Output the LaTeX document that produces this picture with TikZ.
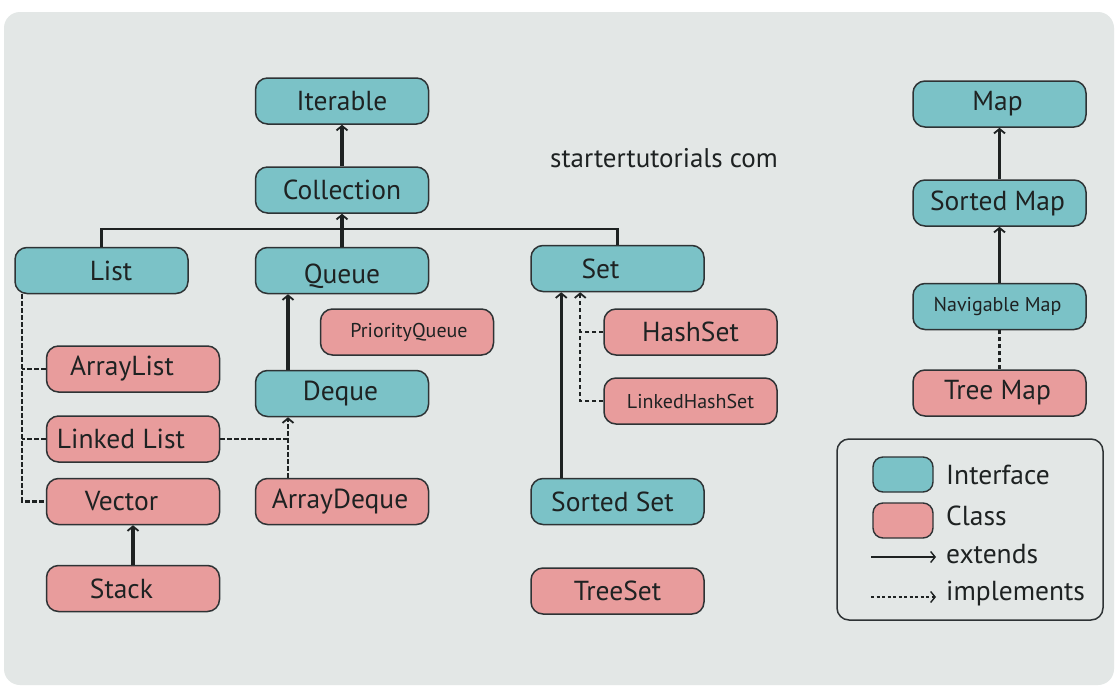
\documentclass[tikz,border=0pt]{standalone}
\usepackage{fontspec}
\setmainfont{PT Sans}
\usetikzlibrary{arrows.meta}
\definecolor{bgc}{HTML}{E3E7E6}
\definecolor{tealc}{HTML}{7BC2C7}
\definecolor{pinkc}{HTML}{E89C9C}
\definecolor{edgec}{HTML}{2E3335}
\definecolor{txtc}{HTML}{1E2222}
% shift the text of a box horizontally by #1 (half of the given space)
\newcommand{\shtxt}[2]{\hspace*{#1}#2}
\begin{document}
\begin{tikzpicture}[x=1pt,y=-1pt,
  box/.style={draw=edgec, line width=1.5pt, rounded corners=12pt, minimum width=173pt, minimum height=46pt, inner sep=0pt, font=\fontsize{27.5}{30}\selectfont, text=txtc},
  iface/.style={box, fill=tealc},
  cls/.style={box, fill=pinkc},
  small/.style={font=\fontsize{20}{23}\selectfont},
  tip/.style={-{Straight Barb[length=4.5pt,width=11pt,line width=1.8pt]}},
  ext/.style={draw=txtc, line width=3.2pt, tip},
  bar/.style={draw=txtc, line width=2.4pt},
  impl/.style={draw=txtc, line width=2.1pt, dash pattern=on 4.5pt off 2.5pt},
  impla/.style={impl, -{Straight Barb[length=4.5pt,width=11pt,line width=1.8pt]}},
  lg/.style={font=\fontsize{27.5}{30}\selectfont, text=txtc, anchor=west, inner sep=0pt}
]
\useasboundingbox (0,0) rectangle (1120,686);
\fill[white] (0,0) rectangle (1120,686);
\fill[bgc, rounded corners=16pt] (4,12) rectangle (1114,685);

% nodes
\node[iface] (iter) at (342,101) {Iterable};
\node[iface] (coll) at (342,190) {Collection};
\node[iface] (list) at (101.5,270.5) {\shtxt{19pt}{List}};
\node[iface, text height=31pt, text depth=6pt] (queue) at (342,270.5) {Queue};
\node[iface] (set) at (617.5,268.5) {\shtxt{-34pt}{Set}};
\node[cls,small] (pq) at (407,332) {\shtxt{4pt}{PriorityQueue}};
\node[cls] (hs) at (690.5,332) {HashSet};
\node[cls] (al) at (133,369) {\shtxt{-22pt}{ArrayList}};
\node[iface] (deque) at (342,393.5) {\shtxt{-3pt}{Deque}};
\node[cls,small] (lhs) at (690.5,401) {LinkedHashSet};
\node[cls] (ll) at (133,439) {\shtxt{-24pt}{Linked List}};
\node[cls] (vec) at (133,501.5) {\shtxt{-23pt}{Vector}};
\node[cls] (ad) at (342,501.5) {\shtxt{-4pt}{ArrayDeque}};
\node[iface] (ss) at (617.5,501.5) {\shtxt{-10pt}{Sorted Set}};
\node[cls] (stack) at (133,588.5) {\shtxt{-23pt}{Stack}};
\node[cls] (ts) at (617.5,591) {TreeSet};
\node[iface] (map) at (999.5,104) {\shtxt{-4pt}{Map}};
\node[iface] (smap) at (999.5,203) {\shtxt{-4pt}{Sorted Map}};
\node[iface,small] (nmap) at (999.5,306.5) {\shtxt{-4pt}{Navigable Map}};
\node[cls] (tmap) at (999.5,393) {\shtxt{-4pt}{Tree Map}};

\node[font=\fontsize{27}{30}\selectfont, text=txtc] (wm) at (664,158) {startertutorials com};

% Collection hierarchy
\draw[ext] (coll.north) -- (iter.south);
\coordinate (barY) at (0,229);
\draw[bar] (list.north) |- (barY -| set.north) -- (set.north);
\draw[ext] (queue.north) -- (coll.south);
\draw[ext] ([xshift=-54pt]deque.north) -- ([xshift=-54pt]queue.south);

% List implementations
\coordinate (lt) at ([xshift=8pt]list.south west);
\draw[impl] (lt) |- (vec.west);
\draw[impl] (al.west) -- (al.west -| lt);
\draw[impl] (ll.west) -- (ll.west -| lt);

% Deque implementations
\coordinate (dq) at ([xshift=-54pt]deque.south);
\draw[impla] ([xshift=-54pt]ad.north) -- (dq);
\draw[impl] (ll.east) -- (ll.east -| dq);

\draw[ext] (stack.north) -- (vec.south);

% Set
\draw[ext] ([xshift=31pt]ss.north west) -- ([xshift=31pt]set.south west);
\coordinate (st) at ([xshift=50pt]set.south west);
\draw[impla] (lhs.west) -| (st);
\draw[impl] (hs.west) -- (hs.west -| st);

% Map
\draw[ext] (smap.north) -- (map.south);
\draw[ext] (nmap.north) -- (smap.south);
\draw[impl] (tmap.north) -- (nmap.south);

% Legend
\node[draw=edgec, line width=1.5pt, rounded corners=12pt, minimum width=266pt, minimum height=181pt, inner sep=0pt] (leg) at (970,529.5) {};
\node[draw=edgec, fill=tealc, line width=1.4pt, rounded corners=10pt, minimum width=60pt, minimum height=35pt, inner sep=0pt] (lgi) at (903,474.5) {};
\node[draw=edgec, fill=pinkc, line width=1.4pt, rounded corners=10pt, minimum width=60pt, minimum height=35pt, inner sep=0pt] (lgc) at (903,520.5) {};
\node[lg] (lti) at (946,475) {Interface};
\node[lg] (ltc) at (946,516) {Class};
\node[lg] (lte) at (946,554) {extends};
\node[lg] (ltm) at (946,594) {implements};
\coordinate (e1) at (871,557);
\coordinate (e2) at (936,557);
\coordinate (m1) at (871,597);
\coordinate (m2) at (936,597);
\draw[draw=txtc, line width=1.4pt, -{Straight Barb[length=4.5pt,width=11pt,line width=1.4pt]}] (e1) -- (e2);
\draw[draw=txtc, line width=1.4pt, dash pattern=on 3pt off 2.5pt, -{Straight Barb[length=4.5pt,width=11pt,line width=1.4pt]}] (m1) -- (m2);
\end{tikzpicture}
\end{document}
